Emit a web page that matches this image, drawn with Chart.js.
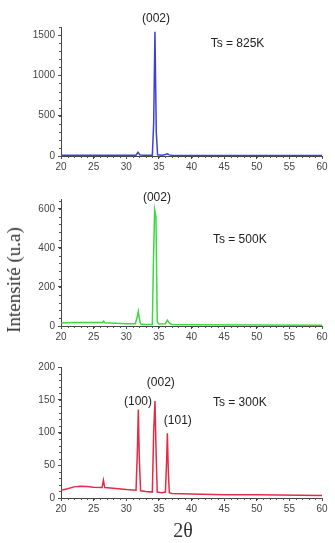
<!DOCTYPE html>
<html>
<head>
<meta charset="utf-8">
<script src="https://cdn.jsdelivr.net/npm/chart.js@4.4.0/dist/chart.umd.min.js"></script>
<style>
  body { margin: 0; background: #fff; }
  #wrap { position: relative; width: 335px; height: 543px; overflow: hidden; }
  canvas { position: absolute; left: 0; }
  .lbl { position: absolute; font-family: "Liberation Serif", serif; color: #333; white-space: nowrap; }
</style>
</head>
<body>
<div id="wrap">
  <canvas id="c1" width="335" height="178" style="top:0px"></canvas>
  <canvas id="c2" width="335" height="172" style="top:178px"></canvas>
  <canvas id="c3" width="335" height="193" style="top:350px"></canvas>
  <div class="lbl" style="font-size:19px; left:14px; top:280px; transform: translate(-50%,-50%) rotate(-90deg);">Intensité (u.a)</div>
  <div class="lbl" style="font-size:20px; left:183px; top:530px; transform: translate(-50%,-50%);">2θ</div>
</div>
<script>
// 2theta positions and intensities
var theta825 = [20, 25, 30, 31.5, 31.8, 32.1, 33, 34.0, 34.2, 34.4, 34.6, 34.8, 35.5, 36.0, 36.3, 36.6, 37, 40, 50, 60]
var int825   = [8, 8, 8, 10, 45, 12, 8, 10, 400, 1540, 300, 15, 10, 18, 28, 14, 8, 6, 5, 5]

var theta500 = [20, 22, 25, 26.3, 26.5, 26.7, 30, 31.4, 31.7, 31.85, 32.0, 32.2, 33, 34.0, 34.15, 34.35, 34.55, 34.75, 35, 36.0, 36.3, 36.6, 37, 40, 50, 60]
var int500   = [15, 18, 18, 18, 25, 17, 12, 12, 50, 75, 40, 10, 8, 8, 300, 595, 560, 20, 10, 12, 30, 15, 8, 6, 5, 4]

var theta300 = [20, 21, 22, 23, 24, 25, 26.3, 26.5, 26.7, 28, 30, 31.5, 31.7, 31.85, 32.0, 32.2, 33, 34.0, 34.2, 34.4, 34.6, 34.75, 35.5, 36.0, 36.2, 36.3, 36.45, 36.6, 37, 40, 45, 50, 60]
var int300   = [12, 14, 17, 18, 17.5, 16.5, 16, 27, 16, 15, 13, 12, 70, 135, 60, 11, 10, 9, 100, 148, 60, 9, 8, 9, 60, 99, 40, 8, 7, 6, 5, 5, 4]

var xTicks = [20, 25, 30, 35, 40, 45, 50, 55, 60]
var yTicks825 = [0, 500, 1000, 1500]
var yTicks500 = [0, 200, 400, 600]
var yTicks300 = [0, 50, 100, 150, 200]

function pts(xs, ys) {
    return xs.map(function(x, i){ return {x: x, y: ys[i]} })
}

// little text labels drawn at data positions
var notePlugin = {
    id: 'notes',
    afterDatasetsDraw: function(chart, args, opts) {
        var ctx = chart.ctx
        var xs = chart.scales.x, ys = chart.scales.y
        ctx.save()
        ctx.fillStyle = '#222'
        ctx.font = '12px "Liberation Sans", Arial, sans-serif'
        ctx.textAlign = 'center'
        ctx.textBaseline = 'middle'
        opts.items.forEach(function(it){
            ctx.fillText(it.text, xs.getPixelForValue(it.x), ys.getPixelForValue(it.y))
        })
        ctx.restore()
    }
}

// minor tick marks along both axes
var minorPlugin = {
    id: 'minor',
    afterDraw: function(chart, args, opts) {
        var ctx = chart.ctx
        var xs = chart.scales.x, ys = chart.scales.y
        var a = chart.chartArea
        ctx.save()
        ctx.strokeStyle = '#555'
        ctx.lineWidth = 1
        ctx.beginPath()
        for (var v = xs.min; v <= xs.max; v += 1) {
            var px = Math.round(xs.getPixelForValue(v)) + 0.5
            ctx.moveTo(px, a.bottom); ctx.lineTo(px, a.bottom + 2)
        }
        for (var w = 0; w <= ys.max; w += opts.yMinor) {
            var py = Math.round(ys.getPixelForValue(w)) + 0.5
            ctx.moveTo(a.left - 2, py); ctx.lineTo(a.left, py)
        }
        ctx.stroke()
        ctx.restore()
    }
}

var tickFont = { size: 10, family: '"Liberation Sans", Arial, sans-serif' }

function makeChart(id, data, color, yMax, yTicks, padTop, xHeight, notes) {
    return new Chart(document.getElementById(id), {
        type: 'line',
        data: { datasets: [{ data: data, borderColor: color, borderWidth: 1.5, pointRadius: 0, tension: 0 }] },
        options: {
            responsive: false,
            animation: false,
            layout: { padding: { top: padTop, right: 13, left: 0, bottom: 0 } },
            plugins: {
                legend: { display: false },
                tooltip: { enabled: false },
                notes: { items: notes },
                minor: { yMinor: (yTicks[1] - yTicks[0]) / 5 }
            },
            scales: {
                x: {
                    type: 'linear', min: 20, max: 60,
                    afterBuildTicks: function(s){ s.ticks = xTicks.map(function(v){ return {value: v} }) },
                    afterFit: function(s){ s.height = xHeight },
                    grid: { drawOnChartArea: false, tickLength: 3, color: '#444' },
                    border: { color: '#444', width: 1 },
                    ticks: { color: '#444', padding: 2, maxRotation: 0, font: tickFont, callback: function(v){ return String(v) } }
                },
                y: {
                    min: 0, max: yMax,
                    afterBuildTicks: function(s){ s.ticks = yTicks.map(function(v){ return {value: v} }) },
                    afterFit: function(s){ s.width = 61 },
                    grid: { drawOnChartArea: false, tickLength: 3, color: '#444' },
                    border: { color: '#444', width: 1 },
                    ticks: { autoSkip: false, color: '#444', padding: 3, font: tickFont, callback: function(v){ return String(v) } }
                }
            }
        },
        plugins: [notePlugin, minorPlugin]
    })
}

makeChart('c1', pts(theta825, int825), '#4040d8', 1600, yTicks825, 27, 22, [
    {text: '(002)', x: 34.56, y: 1699},
    {text: 'Ts = 825K', x: 47.05, y: 1389}
])
makeChart('c2', pts(theta500, int500), '#40d840', 650, yTicks500, 21, 24, [
    {text: '(002)', x: 34.7, y: 655},
    {text: 'Ts = 500K', x: 47.4, y: 440}
])
makeChart('c3', pts(theta300, int300), '#e52a48', 200, yTicks300, 17, 45, [
    {text: '(100)', x: 31.8, y: 146.6},
    {text: '(002)', x: 35.3, y: 175.6},
    {text: '(101)', x: 37.9, y: 117.6},
    {text: 'Ts = 300K', x: 47.4, y: 145}
])
</script>
</body>
</html>
